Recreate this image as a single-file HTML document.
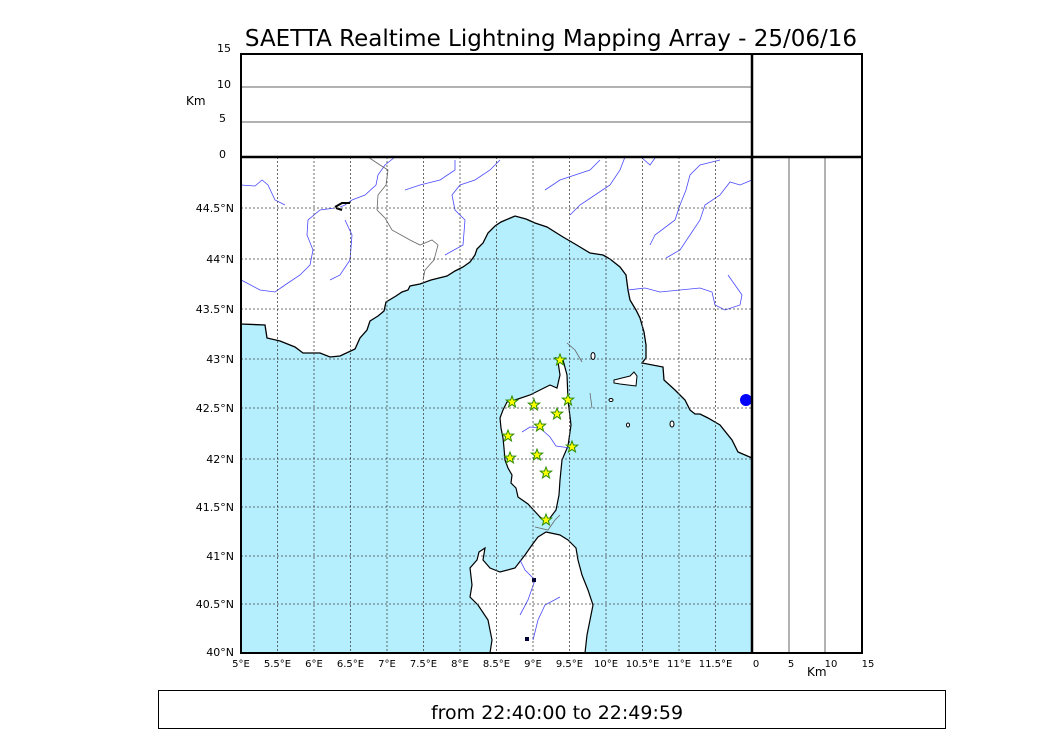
<!DOCTYPE html>
<html><head><meta charset="utf-8"><style>
body{margin:0;background:#fff;width:1050px;height:750px;overflow:hidden}
svg{display:block;font-family:"DejaVu Sans","Liberation Sans",sans-serif}
</style></head><body>
<svg width="1050" height="750" viewBox="0 0 1050 750">
<rect width="1050" height="750" fill="#fff"/>
<text x="551" y="46" font-size="23" text-anchor="middle">SAETTA Realtime Lightning Mapping Array - 25/06/16</text>
<rect x="241" y="157" width="511" height="496" fill="#b5eefd"/>
<polygon fill="#fff" stroke="#000" stroke-width="1.3" points="241,157 752,157 752,458 738,452 732,440 720,425 708,418 700,414 695,414 690,410 685,400 675,390 664,380 663,367 642,363 646,358 646,345 644,332 640,318 636,310 630,300 628,290 626,275 620,267 610,259 603,255 590,253 575,244 563,237 547,227 535,223 526,219 515,216 501,222 495,226 488,233 483,243 477,249 475,255 470,262 463,267 455,271 447,276 431,280 420,284 410,286 408,290 402,292 396,296 386,302 384,311 378,316 370,321 367,330 360,338 355,349 340,356 330,357 320,353 303,353 295,347 280,341 267,338 265,325 241,324"/>
<polygon fill="#fff" stroke="#000" stroke-width="1.2" points="556,358 563,360 567,375 568,400 571,425 568,446 562,460 560,480 559,495 556,510 550,518 546,522 540,517 528,504 518,497 516,488 511,483 512,475 508,468 505,460 504,448 503,438 501,428 500,418 503,410 507,402 515,400 530,395 540,390 550,385 557,388 560,375 558,362"/>
<polygon fill="#fff" stroke="#000" stroke-width="1.2" points="546,532 560,535 568,540 576,548 578,560 582,575 588,590 593,605 590,620 587,635 585,653 490,653 492,640 488,620 478,605 470,597 472,585 470,568 477,560 479,552 485,548 483,560 490,568 500,572 515,568 525,555 532,545 538,537"/>
<polygon fill="#fff" stroke="#000" stroke-width="1" points="614,380 622,378 630,376 634,372 637,376 636,386 628,385 620,384 614,383"/>
<ellipse cx="593" cy="356" rx="2" ry="3.5" fill="#fff" stroke="#000"/>
<ellipse cx="611" cy="400" rx="2" ry="1.5" fill="#fff" stroke="#000"/>
<ellipse cx="628" cy="425" rx="1.5" ry="2" fill="#fff" stroke="#000"/>
<ellipse cx="672" cy="424" rx="2" ry="3" fill="#fff" stroke="#000"/>
<g fill="none" stroke="#4a4aff" stroke-width="0.8">
<path d="M241,185 L255,186 L262,180 L268,185 L275,200 L285,205"/>
<path d="M335,208 L320,210 L308,220 L307,235 L313,250 L310,265 L300,275 L285,285 L275,292 L260,290 L245,282 L241,280"/>
<path d="M395,157 L385,165 L378,175 L376,185 L365,195 L352,200 L345,205 L340,207"/>
<path d="M345,220 L352,235 L350,260 L340,275 L330,280"/>
<path d="M455,160 L455,170 L440,180 L420,185 L405,190"/>
<path d="M500,160 L490,170 L475,180 L460,185 L452,195 L455,210 L465,220 L463,245 L445,255"/>
<path d="M600,160 L590,170 L575,175 L560,180 L545,190"/>
<path d="M625,157 L620,170 L610,185 L595,195 L580,205 L570,215"/>
<path d="M641,157 L650,165 L655,158"/>
<path d="M720,160 L700,165 L690,175 L686,190 L680,205 L675,220 L655,235 L650,245"/>
<path d="M752,180 L740,185 L730,182 L720,195 L705,205 L700,220 L690,235 L680,250 L666,258"/>
<path d="M628,290 L645,288 L660,292 L680,290 L700,288 L712,292 L715,305 L725,310 L740,305 L742,295 L735,285 L728,275"/>
<path d="M522,432 L530,427 L540,428 L550,437 L556,446 L570,448"/>
<path d="M520,560 L525,570 L535,580 L528,600 L520,615"/>
<path d="M560,597 L545,605 L538,620 L533,640"/>
</g>
<g fill="none" stroke="#666" stroke-width="0.8">
<path d="M368,157 L380,165 L388,170 L386,185 L378,195 L377,210 L385,218 L392,230 L410,240 L420,245 L432,240 L438,245 L434,260 L425,270 L423,280"/>
<path d="M567,343 L575,350 L582,362"/>
<path d="M590,393 L592,408"/>
<path d="M535,527 L548,530 L555,520 L560,515"/>
</g>
<path d="M335,207 L342,203 L350,203 M336,208 L342,210" stroke="#000" stroke-width="2" fill="none"/>
<ellipse cx="746" cy="400" rx="6" ry="6" fill="#00f"/>
<rect x="532" y="578" width="4" height="4" fill="#003"/>
<rect x="525" y="637" width="4" height="4" fill="#003"/>
<g stroke="#444" stroke-width="0.8" stroke-dasharray="2,2" fill="none">
<path d="M277.5,157V653M314,157V653M350.5,157V653M387,157V653M423.5,157V653M460,157V653M496.5,157V653M533,157V653M569.5,157V653M606,157V653M642.5,157V653M679,157V653M715.5,157V653"/>
<path d="M241,208H752M241,259H752M241,309H752M241,359H752M241,408H752M241,459H752M241,507H752M241,556H752M241,604H752"/>
</g>
<g fill="#ffff00" stroke="#2a8a00" stroke-width="1">
<defs><path id="st" d="M0,-6 L1.5,-2 L5.7,-1.9 L2.4,0.8 L3.5,4.9 L0,2.5 L-3.5,4.9 L-2.4,0.8 L-5.7,-1.9 L-1.5,-2Z"/></defs>
<use href="#st" x="560" y="360"/><use href="#st" x="512" y="402"/><use href="#st" x="534" y="405"/>
<use href="#st" x="568" y="400"/><use href="#st" x="557" y="414"/><use href="#st" x="540" y="426"/>
<use href="#st" x="508" y="436"/><use href="#st" x="572" y="447"/><use href="#st" x="537" y="455"/>
<use href="#st" x="510" y="458"/><use href="#st" x="546" y="473"/><use href="#st" x="546" y="520"/>
</g>
<line x1="242" y1="87" x2="752" y2="87" stroke="#666"/>
<line x1="242" y1="122" x2="752" y2="122" stroke="#666"/>
<line x1="789" y1="157" x2="789" y2="653" stroke="#666"/>
<line x1="825" y1="157" x2="825" y2="653" stroke="#666"/>
<rect x="241" y="54" width="621" height="599" fill="none" stroke="#000" stroke-width="2"/>
<line x1="752" y1="54" x2="752" y2="653" stroke="#000" stroke-width="2.5"/>
<line x1="241" y1="157" x2="862" y2="157" stroke="#000" stroke-width="2.5"/>
<g font-size="11" text-anchor="end">
<text x="231" y="52">15</text><text x="231" y="88">10</text><text x="226" y="122">5</text><text x="226" y="158">0</text>
<text x="234" y="212">44.5°N</text><text x="234" y="263">44°N</text><text x="234" y="313">43.5°N</text><text x="234" y="363">43°N</text>
<text x="234" y="412">42.5°N</text><text x="234" y="463">42°N</text><text x="234" y="511">41.5°N</text><text x="234" y="560">41°N</text>
<text x="234" y="608">40.5°N</text><text x="234" y="656">40°N</text>
</g>
<text x="186" y="105" font-size="12">Km</text>
<g font-size="10" text-anchor="middle">
<text x="241" y="667">5°E</text><text x="277.5" y="667">5.5°E</text><text x="314" y="667">6°E</text><text x="350.5" y="667">6.5°E</text>
<text x="387" y="667">7°E</text><text x="423.5" y="667">7.5°E</text><text x="460" y="667">8°E</text><text x="496.5" y="667">8.5°E</text>
<text x="533" y="667">9°E</text><text x="569.5" y="667">9.5°E</text><text x="606" y="667">10°E</text><text x="642.5" y="667">10.5°E</text>
<text x="679" y="667">11°E</text><text x="715.5" y="667">11.5°E</text>
<text x="756" y="667">0</text><text x="791" y="667">5</text><text x="831" y="667">10</text><text x="868" y="667">15</text>
</g>
<text x="807" y="676" font-size="12">Km</text>
<rect x="158.5" y="690.5" width="787" height="38" fill="none" stroke="#000"/>
<text x="557" y="719" font-size="19" text-anchor="middle">from 22:40:00 to 22:49:59</text>
</svg>
</body></html>
